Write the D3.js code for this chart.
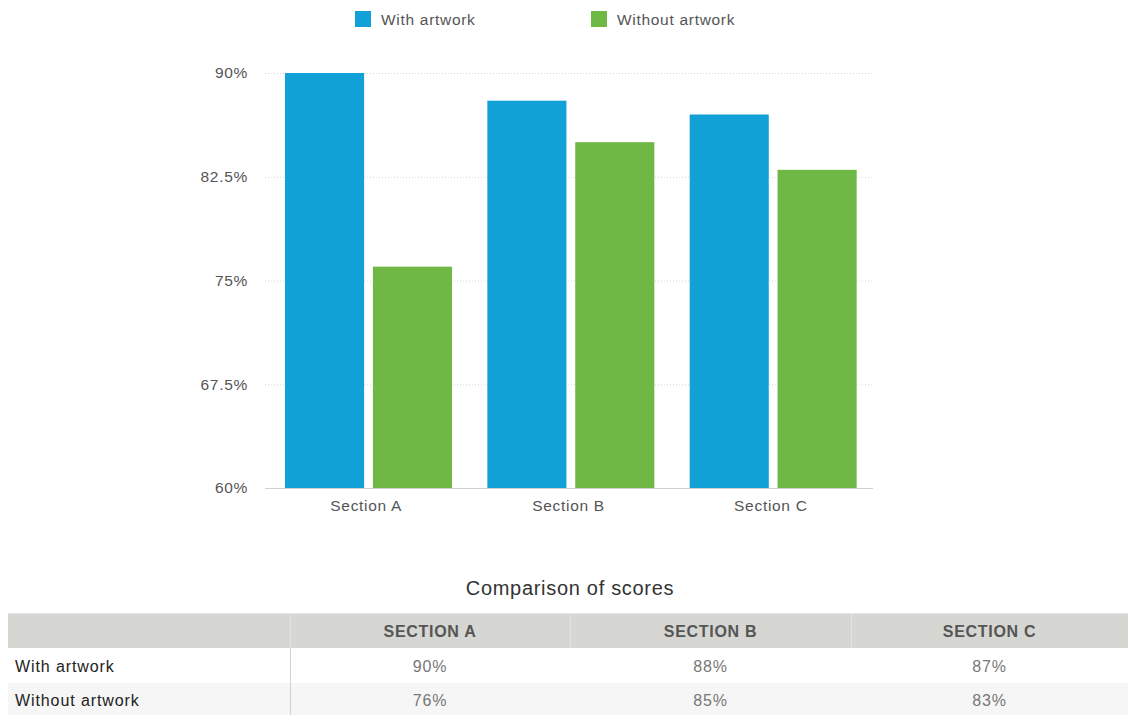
<!DOCTYPE html>
<html><head><meta charset="utf-8">
<script src="https://cdn.jsdelivr.net/npm/d3@7/dist/d3.min.js"></script>
<style>
body{margin:0;background:#fff;font-family:"Liberation Sans",Arial,Helvetica,sans-serif;}
</style></head>
<body>
<svg id="c" width="1128" height="715"></svg>
<script>
const categories = ["Section A","Section B","Section C"];
const seriesNames = ["With artwork","Without artwork"];
const withArtwork = [90,88,87];
const withoutArtwork = [76,85,83];
const yTicks = [60,67.5,75,82.5,90];
const tableHeaders = ["SECTION A","SECTION B","SECTION C"];
const colors = ["#12a1d6","#6fb845"];
const title = "Comparison of scores";

(function(){
const FONT = "Liberation Sans, Arial, sans-serif";
const svg = d3.select("#c");
const pLeft=265, pRight=872, pTop=73, pBottom=488;
const x0 = d3.scaleBand().domain(categories).range([pLeft,pRight]).paddingInner(0).paddingOuter(0);
const x1 = d3.scaleBand().domain(seriesNames).range([20, 187]).paddingInner(0.1);
const y = d3.scaleLinear().domain([60,90]).range([pBottom,pTop]);

// grid
svg.append("g").selectAll("line").data(yTicks.slice(1)).join("line")
  .attr("x1",pLeft).attr("x2",pRight).attr("y1",d=>y(d)+0.5).attr("y2",d=>y(d)+0.5)
  .attr("stroke","#d8d8d8").attr("stroke-dasharray","1,2");

// y axis labels
const yAxis = d3.axisLeft(y).tickValues(yTicks).tickSize(0).tickPadding(0).tickFormat(d=>d+"%");
const ya = svg.append("g").attr("transform",`translate(248,0)`).call(yAxis);
ya.select(".domain").remove();
ya.selectAll("text").attr("font-size",15.5).attr("letter-spacing",0.7).attr("fill","#555").attr("font-family",FONT);

// bars
const data = categories.map((c,i)=>({c, vals:[withArtwork[i],withoutArtwork[i]]}));
const g = svg.append("g").selectAll("g").data(data).join("g").attr("transform",d=>`translate(${x0(d.c)},0)`);
g.selectAll("rect").data(d=>d.vals.map((v,j)=>({s:seriesNames[j],v,j}))).join("rect")
  .attr("x",d=>x1(d.s)).attr("width",x1.bandwidth())
  .attr("y",d=>y(d.v)).attr("height",d=>y(60)-y(d.v)).attr("fill",d=>colors[d.j]);

// baseline
svg.append("line").attr("x1",pLeft).attr("x2",pRight+1).attr("y1",pBottom+0.5).attr("y2",pBottom+0.5).attr("stroke","#d0d0d0");

// x axis
const xa = svg.append("g").attr("transform",`translate(0,${pBottom})`).call(d3.axisBottom(x0).tickSize(0).tickPadding(12));
xa.select(".domain").remove();
xa.selectAll("text").attr("font-size",15.5).attr("letter-spacing",0.7).attr("fill","#555").attr("font-family",FONT);

// legend
const legendX = [355,591];
const lg = svg.append("g").selectAll("g").data(seriesNames).join("g").attr("transform",(d,i)=>`translate(${legendX[i]},11)`);
lg.append("rect").attr("width",16).attr("height",16).attr("fill",(d,i)=>colors[i]);
lg.append("text").attr("x",26).attr("y",13.5).attr("font-size",15.5).attr("letter-spacing",0.7).attr("fill","#555").text(d=>d);

// title
svg.append("text").attr("x",570).attr("y",595).attr("text-anchor","middle").attr("font-size",20).attr("letter-spacing",0.7).attr("fill","#333").text(title);

// table
const tLeft=8, tRight=1128, colX=[8,290,570,851,1128];
const rowY=[614,648,683,715];
svg.append("rect").attr("x",tLeft).attr("y",rowY[0]).attr("width",tRight-tLeft).attr("height",rowY[1]-rowY[0]).attr("fill","#d6d6d2");
svg.append("rect").attr("x",tLeft).attr("y",rowY[2]).attr("width",tRight-tLeft).attr("height",rowY[3]-rowY[2]).attr("fill","#f6f6f6");
svg.append("line").attr("x1",tLeft).attr("x2",tRight).attr("y1",rowY[0]-0.5).attr("y2",rowY[0]-0.5).attr("stroke","#e6e6e6");
svg.append("g").selectAll("line").data(colX.slice(1,4)).join("line")
  .attr("x1",d=>d+0.5).attr("x2",d=>d+0.5).attr("y1",rowY[0]).attr("y2",rowY[1])
  .attr("stroke","#e2e2de");
svg.append("line").attr("x1",colX[1]+0.5).attr("x2",colX[1]+0.5).attr("y1",rowY[1]).attr("y2",rowY[3]).attr("stroke","#d2d2d2");
svg.append("g").selectAll("text").data(tableHeaders).join("text")
  .attr("x",(d,i)=>(colX[i+1]+colX[i+2])/2).attr("y",637)
  .attr("text-anchor","middle").attr("font-size",16).attr("letter-spacing",0.7).attr("font-weight","bold").attr("fill","#555").text(d=>d);
const rows=[withArtwork,withoutArtwork];
const rowBase=[672,706];
rows.forEach((r,ri)=>{
  const cy=rowBase[ri];
  svg.append("text").attr("x",15).attr("y",cy).attr("font-size",16).attr("letter-spacing",0.9).attr("fill","#222").text(seriesNames[ri]);
  svg.append("g").selectAll("text").data(r).join("text")
    .attr("x",(d,i)=>(colX[i+1]+colX[i+2])/2).attr("y",cy)
    .attr("text-anchor","middle").attr("font-size",16).attr("letter-spacing",0.8).attr("fill","#777").text(d=>d+"%");
});
})();
</script>
</body></html>
